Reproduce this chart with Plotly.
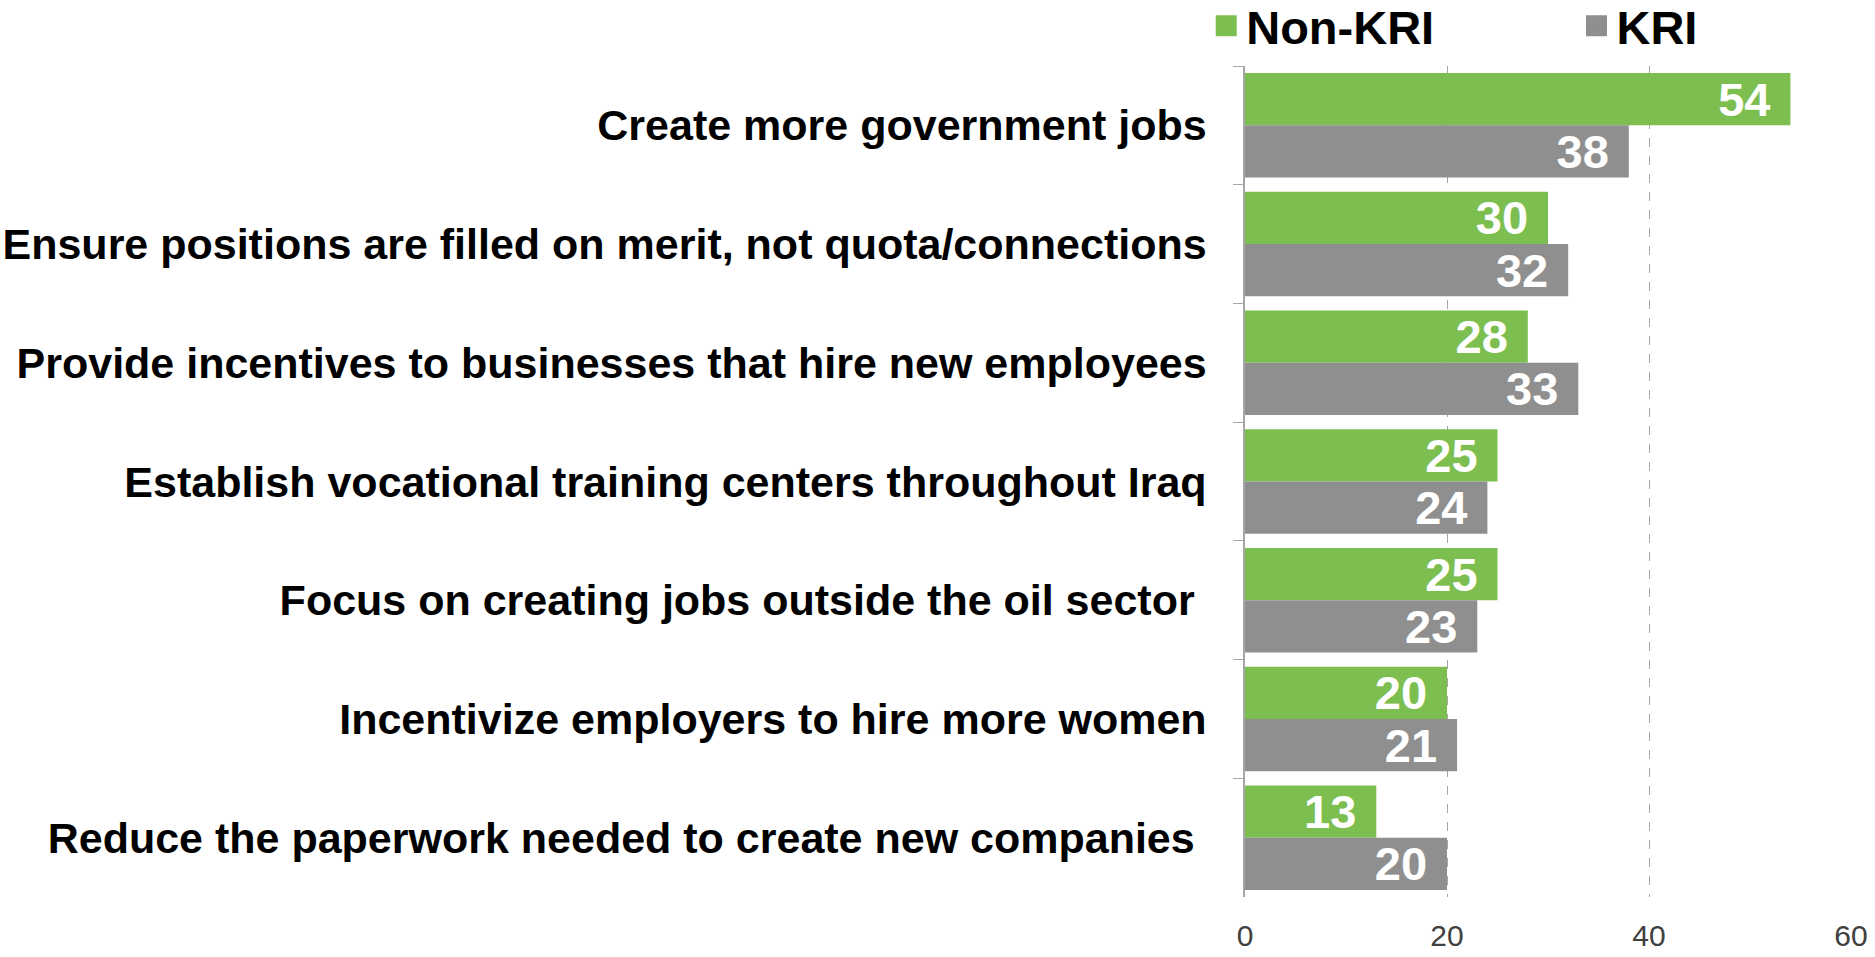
import plotly.graph_objects as go

categories = [
    "Create more government jobs",
    "Ensure positions are filled on merit, not quota/connections",
    "Provide incentives to businesses that hire new employees",
    "Establish vocational training centers throughout Iraq",
    "Focus on creating jobs outside the oil sector\u00a0",
    "Incentivize employers to hire more women",
    "Reduce the paperwork needed to create new companies\u00a0",
]
non_kri = [54, 30, 28, 25, 25, 20, 13]
kri = [38, 32, 33, 24, 23, 21, 20]
x_ticks = [0, 20, 40, 60]

GREEN = "#7DBE51"
GREY = "#8F8F8F"
FONT = "Liberation Sans, Arial, sans-serif"

fig = go.Figure()

series = [("Non-KRI", non_kri, GREEN, "legend"), ("KRI", kri, GREY, "legend2")]
for name, vals, color, leg in series:
    fig.add_trace(go.Bar(
        y=categories,
        x=vals,
        name=name,
        orientation="h",
        marker=dict(color=color, line=dict(width=0)),
        texttemplate="%{x}\u00a0\u200a",
        textposition="inside",
        insidetextanchor="end",
        constraintext="none",
        textfont=dict(family=FONT, size=47, color="white", weight="bold"),
        hoverinfo="x+name",
        showlegend=False,
    ))

# legend-only entries with bigger square swatches
for name, vals, color, leg in series:
    fig.add_trace(go.Scatter(
        x=[None], y=[None], mode="markers", name=name, legend=leg,
        marker=dict(symbol="square", size=16, color=color,
                    line=dict(color=color, width=5)),
        showlegend=True,
    ))

legend_style = dict(
    orientation="h",
    xanchor="left",
    y=1.048,
    yanchor="middle",
    font=dict(family=FONT, size=47, color="black", weight="bold"),
    itemwidth=30,
    bgcolor="rgba(0,0,0,0)",
)

fig.update_layout(
    width=1875,
    height=957,
    paper_bgcolor="white",
    plot_bgcolor="white",
    barmode="group",
    bargap=0.12,
    bargroupgap=0,
    margin=dict(l=1245, r=24, t=66, b=60, autoexpand=False),
    font=dict(family=FONT),
    legend=dict(x=-0.064, **legend_style),
    legend2=dict(x=0.547, **legend_style),
    xaxis=dict(
        range=[0, 60],
        tickvals=x_ticks,
        showgrid=True,
        gridcolor="#A6A6A6",
        gridwidth=1,
        griddash="dash",
        zeroline=False,
        showline=False,
        ticks="",
        ticklabelstandoff=18,
        tickfont=dict(family=FONT, size=30, color="#404040"),
        fixedrange=True,
    ),
    yaxis=dict(
        autorange="reversed",
        type="category",
        showline=True,
        linecolor="#A6A6A6",
        linewidth=1.5,
        ticks="outside",
        tickson="boundaries",
        ticklen=10,
        tickcolor="#A6A6A6",
        ticklabelstandoff=28,
        tickfont=dict(family=FONT, size=43, color="black", weight="bold"),
        showgrid=False,
        fixedrange=True,
    ),
)

fig.write_html(
    "out.html",
    config={"displayModeBar": False},
    post_script="document.body.style.margin='0';document.body.style.overflow='hidden';",
)
